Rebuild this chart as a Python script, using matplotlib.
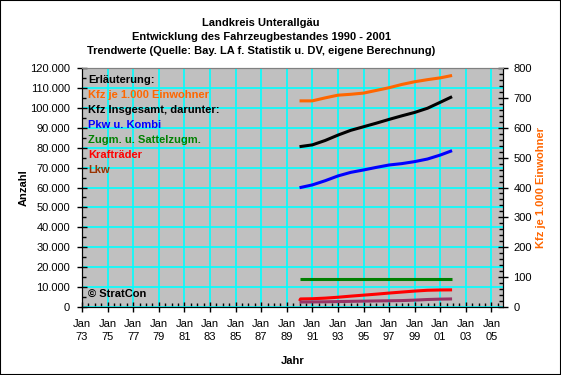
import matplotlib
matplotlib.use("Agg")
import matplotlib.pyplot as plt
from matplotlib.ticker import MultipleLocator, FuncFormatter
from matplotlib.patches import Rectangle

plt.rcParams['font.family'] = ['Liberation Sans', 'DejaVu Sans']

# data (trend values)
jahre = [1990.0, 1991.0, 1992.0, 1993.0, 1994.0, 1995.0, 1996.0,
         1997.0, 1998.0, 1999.0, 2000.0, 2001.0, 2001.92]
kfz_je_1000 = [690, 690, 700, 709, 712, 716, 725, 734, 745, 754, 761, 767, 775]
kfz_gesamt = [80500, 81400, 83600, 86300, 88700, 90500, 92300,
              94200, 96000, 97700, 99800, 102800, 105600]
pkw = [59900, 61300, 63400, 65800, 67600, 68800, 70100,
       71300, 72000, 73000, 74300, 76300, 78500]
zugm = [14200, 14200, 14200, 14200, 14200, 14200, 14200,
        14200, 14200, 14200, 14200, 14200, 14200]
kraftrad_x = [1990.0, 1990.08, 1991.0, 1992.0, 1993.0, 1994.0, 1995.0,
              1996.0, 1997.0, 1998.0, 1999.0, 2000.0, 2001.0, 2001.92]
kraftrad = [3000, 4050, 4150, 4450, 4900, 5450, 5950,
            6450, 7000, 7500, 8000, 8400, 8550, 8600]
lkw = [2500, 2550, 2620, 2720, 2840, 2950, 3050,
       3130, 3230, 3450, 3760, 3950, 4050]

x_ticks = list(range(1973, 2006, 2))
x_labels = ["Jan\n%02d" % (j % 100) for j in x_ticks]

W, H = 561, 375
fig = plt.figure(figsize=(W / 100, H / 100), dpi=100)
fig.patch.set_facecolor('white')
fig.patches.append(Rectangle((0, 0), 1, 1, transform=fig.transFigure,
                             fill=False, edgecolor='black', linewidth=1.5))

L, R, T, B = 82, 503, 68, 307
ax = fig.add_axes([L / W, 1 - B / H, (R - L) / W, (B - T) / H])
ax.set_facecolor('#c0c0c0')
ax2 = ax.twinx()

lw = 2.2
ax2.plot(jahre, kfz_je_1000, color='#ff6600', lw=lw, solid_capstyle='butt')
ax.plot(jahre, kfz_gesamt, color='black', lw=lw, solid_capstyle='butt')
ax.plot(jahre, pkw, color='#0000ff', lw=lw, solid_capstyle='butt')
ax.plot(jahre, zugm, color='#008000', lw=lw, solid_capstyle='butt')
ax.plot(kraftrad_x, kraftrad, color='#ff0000', lw=lw, solid_capstyle='butt')
ax.plot(jahre, lkw, color='#993366', lw=lw, solid_capstyle='butt')

ax.set_xlim(1973, 2005.9)
ax.set_ylim(0, 120000)
ax2.set_ylim(0, 800)

ax.set_xticks(x_ticks)
ax.set_xticklabels(x_labels, linespacing=1.45)
ax.xaxis.set_minor_locator(MultipleLocator(0.5))
ax.yaxis.set_major_locator(MultipleLocator(10000))
ax.yaxis.set_minor_locator(MultipleLocator(5000))
ax.yaxis.set_major_formatter(FuncFormatter(lambda v, p: f"{int(v):,}".replace(",", ".")))
ax2.yaxis.set_major_locator(MultipleLocator(100))
ax2.yaxis.set_minor_locator(MultipleLocator(20))

ax.grid(True, which='major', color='#00ffff', lw=1.2)
ax.set_axisbelow(True)

ax.tick_params(axis='both', which='major', direction='inout', length=7, width=1,
               labelsize=8, pad=5)
ax.tick_params(axis='both', which='minor', direction='in', length=3, width=1)
ax.tick_params(axis='x', which='major', pad=5)
ax2.tick_params(axis='y', which='major', direction='inout', length=7, width=1,
                labelsize=8, pad=4)
ax2.tick_params(axis='y', which='minor', direction='in', length=3, width=1)

for a in (ax, ax2):
    a.spines['top'].set_color('#808080')
    for s in ('left', 'right', 'bottom'):
        a.spines[s].set_color('black')

ax.set_xlabel("Jahr", fontsize=8, fontweight='bold', labelpad=10)
ax.set_ylabel("Anzahl", fontsize=8, fontweight='bold', labelpad=1)
ax2.set_ylabel("Kfz je 1.000 Einwohner", fontsize=8, fontweight='bold',
               color='#ff6600', labelpad=3)

titel = ["Landkreis Unterallgäu",
         "Entwicklung des Fahrzeugbestandes 1990 - 2001",
         "Trendwerte (Quelle: Bay. LA f. Statistik u. DV, eigene Berechnung)"]
for i, t in enumerate(titel):
    fig.text(261 / W, 1 - (23.5 + 14 * i) / H, t, ha='center', va='center',
             fontsize=8, fontweight='bold')

legende = [("Erläuterung:", 'black'),
           ("Kfz je 1.000 Einwohner", '#ff6600'),
           ("Kfz Insgesamt, darunter:", 'black'),
           ("Pkw u. Kombi", '#0000ff'),
           ("Zugm. u. Sattelzugm.", '#008000'),
           ("Krafträder", '#ff0000'),
           ("Lkw", '#993300')]
for i, (t, c) in enumerate(legende):
    fig.text(88 / W, 1 - (80 + 15 * i) / H, t, ha='left', va='center',
             fontsize=8, fontweight='bold', color=c)

fig.text(88 / W, 1 - 294 / H, "© StratCon", ha='left', va='center',
         fontsize=8, fontweight='bold')

fig.savefig("out.png", dpi=100)
